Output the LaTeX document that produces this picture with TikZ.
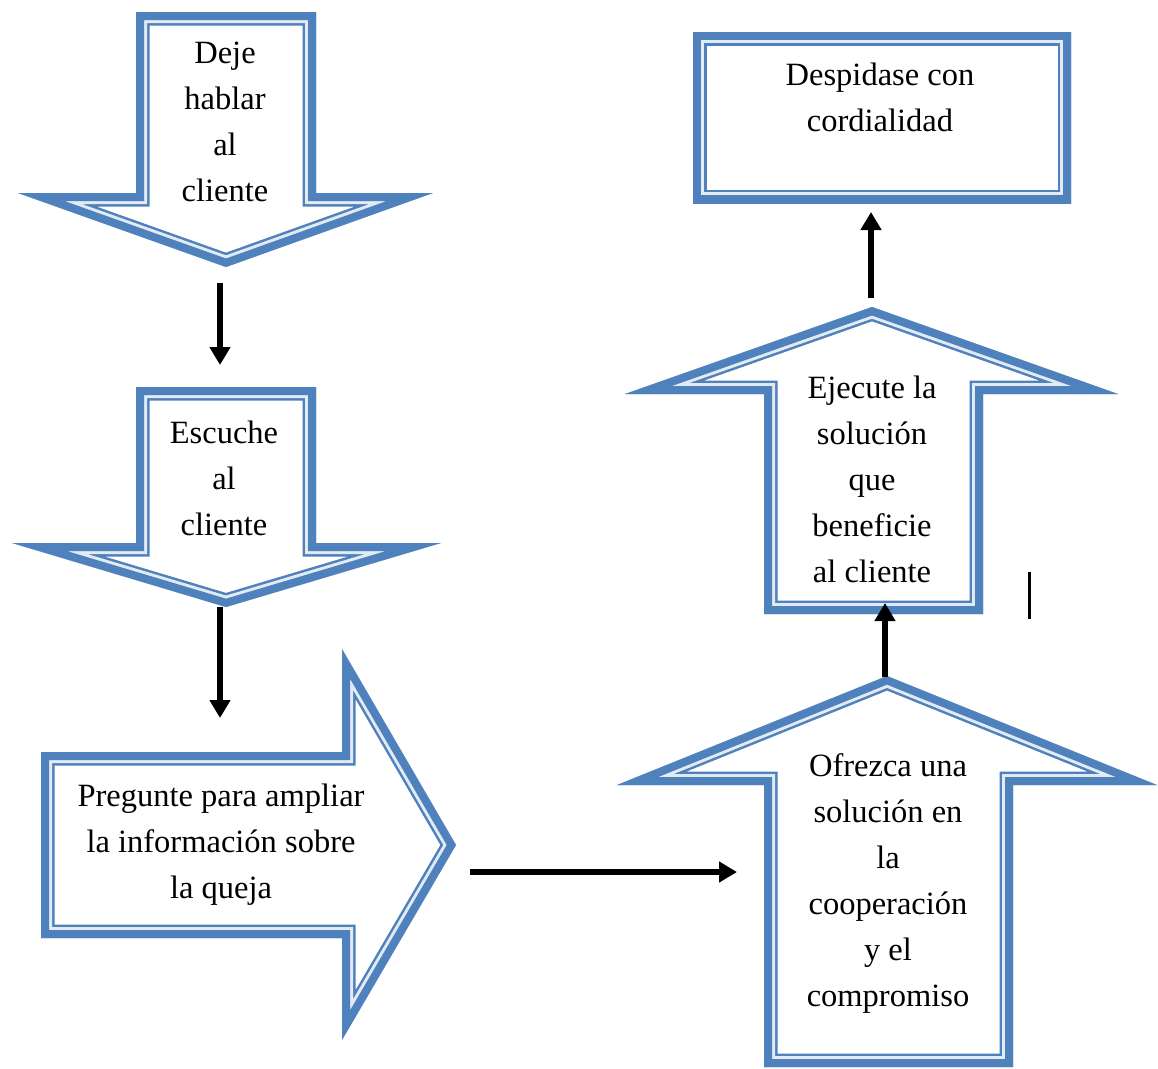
\documentclass[tikz,border=0pt]{standalone}
\usepackage{fontspec}
\setmainfont{Liberation Serif}
\usetikzlibrary{arrows.meta}
\definecolor{wblue}{HTML}{4F81BD}
\definecolor{wgap}{HTML}{E2EAF4}
\tikzset{
  conn/.style={line width=5.5pt, -{Triangle[length=18pt,width=20pt]}},
  lbl/.style={anchor=base, inner sep=0pt, font=\fontsize{32.5}{46}\selectfont},
}
\newcommand{\dblshape}[1]{%
  \begin{scope}
    \clip #1;
    \fill[white] #1;
    \draw[wblue, line width=27pt, line join=miter] #1;
    \draw[wgap, line width=22pt, line join=miter] #1;
    \draw[wblue, line width=16pt, line join=miter] #1;
  \end{scope}}
\newcommand{\lines}[1]{\begin{tabular}[t]{@{}c@{}}#1\end{tabular}}
\begin{document}
\begin{tikzpicture}[x=1pt,y=-1pt]
\useasboundingbox (0,0) rectangle (1158,1068);
% shapes
\dblshape{(136,12) -- (316,12) -- (316,193) -- (433,193) -- (226,267) -- (18,193) -- (136,193) -- cycle}
\dblshape{(136,387) -- (316,387) -- (316,543) -- (441,543) -- (226,607) -- (12,543) -- (136,543) -- cycle}
\dblshape{(41,752) -- (342,752) -- (342,649) -- (456,845) -- (342,1040) -- (342,938) -- (41,938) -- cycle}
\dblshape{(887,676) -- (1157,785) -- (1013,785) -- (1013,1067) -- (764,1067) -- (764,785) -- (617,785) -- cycle}
\dblshape{(872,307) -- (1118,394) -- (983,394) -- (983,614) -- (764,614) -- (764,394) -- (625,394) -- cycle}
\dblshape{(693,32) -- (1071,32) -- (1071,203) -- (693,203) -- cycle}
% texts
\node[lbl] (deje) at (225,63) {\lines{Deje\\hablar\\al\\cliente}};
\node[lbl] (escuche) at (224,443) {\lines{Escuche\\al\\cliente}};
\node[lbl] (pregunte) at (221,806) {\lines{Pregunte para ampliar\\la información sobre\\la queja}};
\node[lbl] (ofrezca) at (888,776) {\lines{Ofrezca una\\solución en\\la\\cooperación\\y el\\compromiso}};
\node[lbl] (ejecute) at (872,398) {\lines{Ejecute la\\solución\\que\\beneficie\\al cliente}};
\node[lbl] (despidase) at (880,85) {\lines{Despidase con\\cordialidad}};
% connector ends
\coordinate (a1s) at (220,283); \coordinate (a1e) at (220,365);
\coordinate (a2s) at (220,607); \coordinate (a2e) at (220,718);
\coordinate (a3s) at (470,872); \coordinate (a3e) at (737,872);
\coordinate (a4s) at (885,677); \coordinate (a4e) at (885,603);
\coordinate (a5s) at (871,298); \coordinate (a5e) at (871,212);
\coordinate (m1) at (1029,572); \coordinate (m2) at (1029,619);
\draw[conn] (a1s) -- (a1e);
\draw[conn] (a2s) -- (a2e);
\draw[conn] (a3s) -- (a3e);
\draw[conn] (a4s) -- (a4e);
\draw[conn] (a5s) -- (a5e);
\draw[line width=3pt] (m1) -- (m2);
\end{tikzpicture}
\end{document}
